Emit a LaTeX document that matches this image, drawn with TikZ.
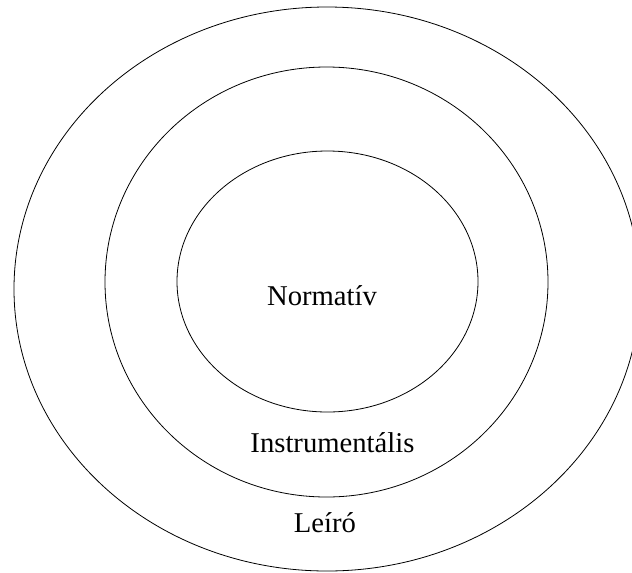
\documentclass[tikz,border=0pt]{standalone}
\usepackage{fontspec}
\setmainfont{Liberation Serif}
\usepackage{tikz}

\begin{document}
\begin{tikzpicture}[x=0.75pt,y=0.75pt,yscale=-1,xscale=1]
%set diagram size to 632 x 572
\useasboundingbox (0,0) rectangle (632,572);
\clip (0,0) rectangle (632,572);

% Shape: Ellipse
\draw  [line width=0.6pt] (327,289) ellipse [x radius=313, y radius=282];
% Shape: Ellipse
\draw  [line width=0.6pt] (326.5,282) ellipse [x radius=221.5, y radius=215];
% Shape: Ellipse
\draw  [line width=0.6pt] (327.5,281.5) ellipse [x radius=150.5, y radius=130.5];

% Text Node
\draw (322,305) node (normativ) [anchor=base][inner sep=0.75pt]  [font=\fontsize{21.5}{24}\selectfont] {Normatív};
% Text Node
\draw (332.5,452) node (instrumentalis) [anchor=base][inner sep=0.75pt]  [font=\fontsize{21.5}{24}\selectfont] {Instrumentális};
% Text Node
\draw (325,532) node (leiro) [anchor=base][inner sep=0.75pt]  [font=\fontsize{21.5}{24}\selectfont] {Leíró};

\end{tikzpicture}
\end{document}
